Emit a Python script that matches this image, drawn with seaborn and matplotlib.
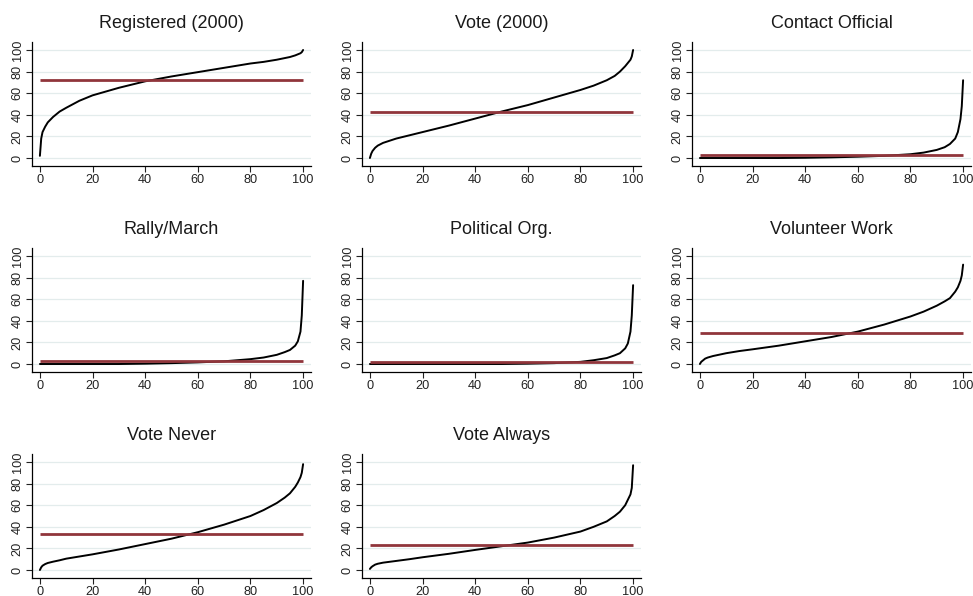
import numpy as np
import pandas as pd
import matplotlib
matplotlib.use("Agg")
import matplotlib.pyplot as plt
import seaborn as sns

# percentile positions (x) shared by every panel
pct = [0, 0.5, 1, 2, 3, 5, 7.5, 10, 15, 20, 30, 40, 50, 60, 70, 80,
       85, 90, 93, 95, 97, 98, 99, 99.5, 100]

titles = ["Registered (2000)", "Vote (2000)", "Contact Official",
          "Rally/March", "Political Org.", "Volunteer Work",
          "Vote Never", "Vote Always"]

registered = [2, 18, 24, 29, 33, 38, 43, 46.5, 53, 58, 65, 71, 75.5, 79.5, 83.5, 87.5,
              89, 91, 92.5, 93.5, 95, 96, 97, 98, 100]
vote2000 = [0, 4, 6.5, 9.5, 11.5, 14, 16, 18, 21, 24, 30, 36.5, 43, 49, 56, 63,
            67, 72, 76, 80, 85, 88, 91, 94, 100]
contact = [0, 0, 0, 0, 0, 0, 0, 0, 0, 0, 0, 0.2, 0.6, 1.2, 2, 3.5,
           5, 7.5, 10, 13, 18, 24, 36, 48, 72]
rally = [0, 0, 0, 0, 0, 0, 0, 0, 0, 0, 0, 0.3, 0.8, 1.5, 2.5, 4.5,
         6, 8.5, 11, 13, 17, 21, 30, 45, 77]
polorg = [0, 0, 0, 0, 0, 0, 0, 0, 0, 0, 0, 0, 0, 0.3, 0.8, 2,
          3.5, 5.5, 8, 10, 14.5, 19, 30, 45, 73]
volunteer = [0, 2, 3, 5, 6, 7.4, 8.7, 10, 12, 13.6, 17, 21, 25, 30, 36.5, 44,
             48.5, 54, 58, 61, 67, 71, 77, 82, 92]
vote_never = [0, 2.5, 4, 5.5, 6.5, 7.7, 9, 10.5, 12.5, 14.5, 19, 24, 29, 35, 42, 50,
              55.5, 62, 67, 71, 77, 81, 86, 90, 98]
vote_always = [1, 2.5, 3.5, 5, 5.8, 6.8, 7.6, 8.4, 10, 11.8, 15, 18.6, 22, 25.4, 30, 35.6,
               40, 45, 50, 54, 60, 65, 70, 76, 97]

means = [72, 42.5, 2.6, 2.8, 1.9, 29, 33.6, 23.2]

series = [registered, vote2000, contact, rally, polorg, volunteer, vote_never, vote_always]

sns.set_style("white")
plt.rcParams["font.family"] = ["Liberation Sans", "DejaVu Sans"]

fig = plt.figure(figsize=(9.73, 5.96), dpi=100)
W, H = 973.0, 596.0
col_left = [32, 362, 692]
row_bottom = [166, 372, 578]
aw, ah = 279, 124

for i, (title, vals, m) in enumerate(zip(titles, series, means)):
    r, c = divmod(i, 3)
    ax = fig.add_axes([col_left[c] / W, 1 - row_bottom[r] / H, aw / W, ah / H])
    df = pd.DataFrame({"pct": pct, "value": vals})
    ax.grid(axis="y", color="#e3ecec", linewidth=0.9)
    ax.set_axisbelow(True)
    sns.lineplot(data=df, x="pct", y="value", ax=ax, color="black", linewidth=1.4)
    ax.hlines(m, 0, 100, color="#90353b", linewidth=2.0, zorder=3)
    ax.set_xlim(-3, 103)
    ax.set_ylim(-7.4, 107.4)
    ax.set_xticks(range(0, 101, 20))
    ax.set_yticks(range(0, 101, 20))
    ax.set_xlabel("")
    ax.set_ylabel("")
    ax.set_title(title, fontsize=13, pad=10, color="#1a1a1a")
    for s in ["top", "right"]:
        ax.spines[s].set_visible(False)
    for s in ["left", "bottom"]:
        ax.spines[s].set_color("black")
        ax.spines[s].set_linewidth(0.9)
    ax.tick_params(axis="both", direction="out", length=4, width=0.8,
                   labelsize=9.2, colors="#222222", left=True, bottom=True)
    ax.tick_params(axis="x", pad=1.5)
    ax.tick_params(axis="y", pad=2)
    for lab in ax.get_yticklabels():
        lab.set_rotation(90)
        lab.set_va("center")

fig.savefig("out.png", dpi=100, facecolor="white")
